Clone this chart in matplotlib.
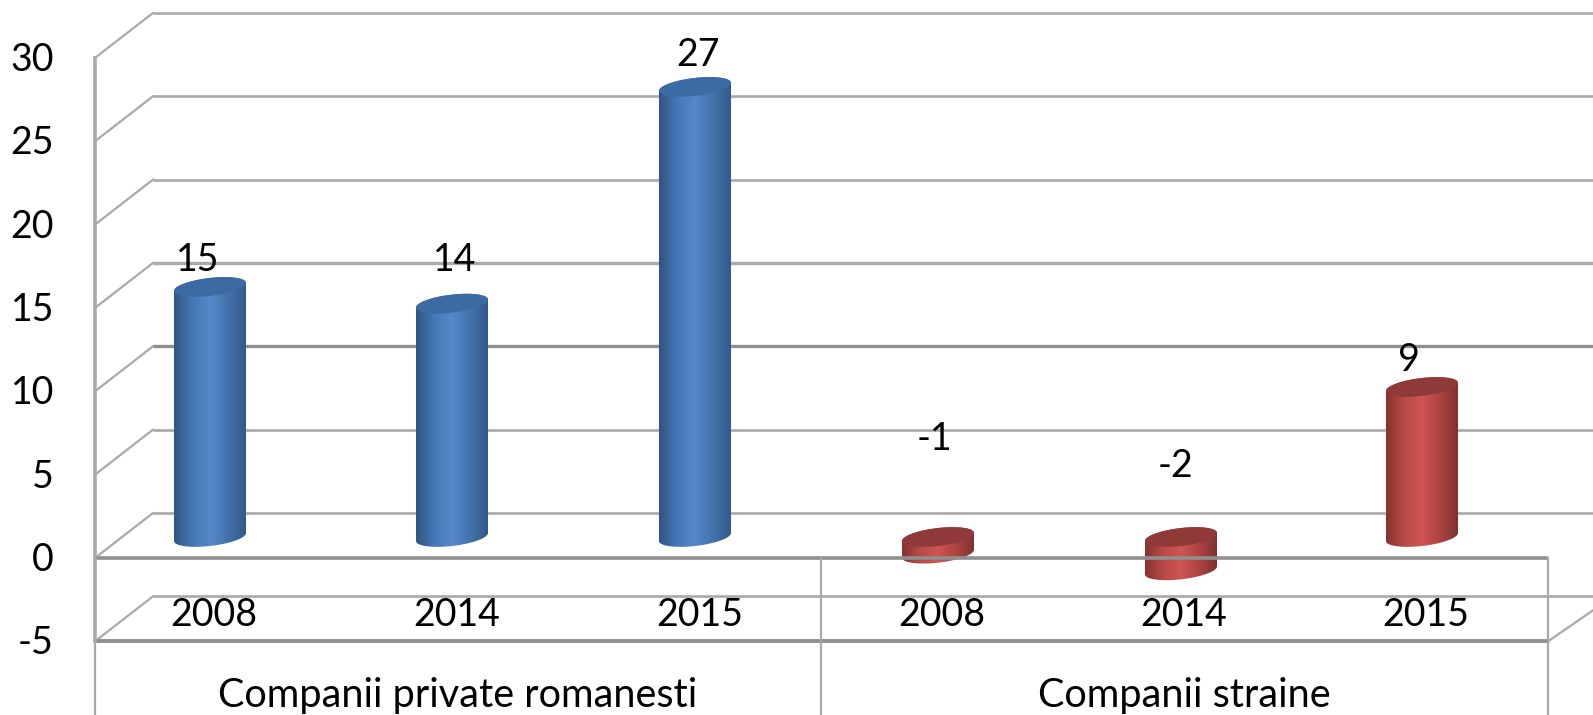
import matplotlib
matplotlib.use("Agg")
import matplotlib.pyplot as plt
import numpy as np
from matplotlib.colors import LinearSegmentedColormap
from matplotlib.patches import Polygon

plt.rcParams["font.family"] = ["Lato", "DejaVu Sans"]

# data
years = ["2008", "2014", "2015", "2008", "2014", "2015"]
groups = ["Companii private romanesti", "Companii straine"]
values = [15, 14, 27, -1, -2, 9]
y_ticks = [-5, 0, 5, 10, 15, 20, 25, 30]

# layout, in pixels of the 1593x715 picture
W, H = 1593, 715
Y0 = 558  # front zero line
PX_PER_UNIT = 16.67
left, mid, right = 95, 821, 1548
dx, dy = 58, 45  # depth of the 3d box
bar_x = [210, 452, 695, 938, 1181, 1422]
bar_half = 36
label_x = [198, 455, 698, 934, 1175, 1409]
label_y = [260, 260, 55, 439, 466, 360]
year_x = [214, 457, 700, 942, 1184, 1426]
FS = 27


def val_y(px):
    return (Y0 - px) / PX_PER_UNIT


grid = "#a9a9a9"
grid_dark = "#8f8f8f"
blue = LinearSegmentedColormap.from_list("b", ["#2f5681", "#4677b5", "#5688ca", "#4373ac", "#33598a"])
red = LinearSegmentedColormap.from_list("r", ["#843331", "#b94a48", "#cf5553", "#ad4442", "#7f3230"])

fig = plt.figure(figsize=(W / 100, H / 100), dpi=100)
ax = fig.add_axes([0, 0, 1, 1])
ax.set_xlim(0, W)
ax.set_ylim(val_y(H), val_y(0))
ax.axis("off")

lift = dy / PX_PER_UNIT

# back wall and left side wall
for t in y_ticks:
    heavy = t in (10, 15)
    ax.plot([left + dx, W], [t + lift, t + lift], color=grid_dark if t == 10 else grid,
            lw=2.4 if heavy else 1.9, zorder=1, solid_capstyle="butt")
    ax.plot([left, left + dx], [t, t + lift], color=grid, lw=1.6, zorder=1)
ax.plot([right, W], [-5, -5 + 31 / PX_PER_UNIT], color=grid, lw=1.6, zorder=1)


def ellipse(cx, cv, start, stop):
    t = np.linspace(start, stop, 60)
    xs = cx + bar_half * np.cos(t)
    ys = cv + (9 * np.sin(t) + 4 * np.cos(t)) / PX_PER_UNIT
    return np.column_stack([xs, ys])


# cylinders stand half way into the box
base = 21 / PX_PER_UNIT
for i, v in enumerate(values):
    cmap = blue if i < 3 else red
    cap_col = "#3c6aa2" if i < 3 else "#8f3a38"
    cx = bar_x[i]
    top = base + max(v, 0)
    bottom = base + min(v, 0)
    side = np.vstack([ellipse(cx, bottom, np.pi, 2 * np.pi), ellipse(cx, top, 0, np.pi)])
    poly = Polygon(side, closed=True, fc="none", ec="none", zorder=3)
    ax.add_patch(poly)
    im = ax.imshow(np.linspace(0, 1, 128).reshape(1, -1), cmap=cmap, aspect="auto",
                   extent=[cx - bar_half, cx + bar_half, bottom - 1, top + 1],
                   zorder=3, interpolation="bilinear")
    im.set_clip_path(poly)
    ax.add_patch(Polygon(ellipse(cx, top, 0, 2 * np.pi), closed=True, fc=cap_col, ec="none", zorder=4))

# front lines go over the bars
ax.plot([left, right], [0, 0], color=grid_dark, lw=2.6, zorder=5, solid_capstyle="butt")
ax.plot([left, right], [-5, -5], color=grid_dark, lw=2.8, zorder=5, solid_capstyle="butt")
ax.plot([left, left], [-5, 30], color=grid, lw=2.6, zorder=5)
for x in (left, mid, right):
    ax.plot([x, x], [0 if x != left else -5, val_y(H)], color=grid, lw=1.6, zorder=5)

# texts
for t in y_ticks:
    ax.text(54, t - 2 / PX_PER_UNIT, str(t), ha="right", va="center", fontsize=FS, color="black", zorder=6)
for i, v in enumerate(values):
    ax.text(label_x[i], val_y(label_y[i]), str(v), ha="center", va="center", fontsize=FS, zorder=6)
    ax.text(year_x[i], val_y(615), years[i], ha="center", va="center", fontsize=FS, zorder=6)
ax.text((left + mid) / 2, val_y(695), groups[0], ha="center", va="center", fontsize=28.5, zorder=6)
ax.text((mid + right) / 2, val_y(695), groups[1], ha="center", va="center", fontsize=28.5, zorder=6)

ax.set_xlim(0, W)
ax.set_ylim(val_y(H), val_y(0))
fig.savefig("out.png", dpi=100)
